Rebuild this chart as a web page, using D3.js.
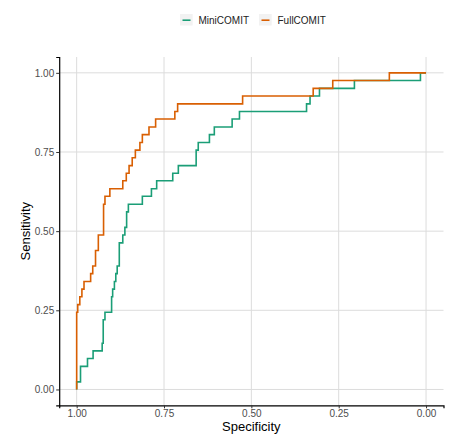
<!DOCTYPE html>
<html>
<head>
<meta charset="utf-8">
<script src="https://cdn.jsdelivr.net/npm/d3@7"></script>
<style>
  body { margin: 0; background: #fff; }
  svg { display: block; font-family: "Liberation Sans", Arial, sans-serif; }
</style>
</head>
<body>
<div id="chart"></div>
<script>
// ROC steps: each point = (specificity, sensitivity), drawn with a step-before curve
const miniSpec = [1, 0.989, 0.969, 0.953, 0.927, 0.924, 0.919, 0.900, 0.897, 0.892,
  0.888, 0.884, 0.878, 0.868, 0.862, 0.857, 0.852, 0.812, 0.786, 0.771,
  0.725, 0.709, 0.658, 0.652, 0.620, 0.606, 0.555, 0.534, 0.342, 0.332,
  0.305, 0.205, 0.016, 0];
const miniSens = [0, 0.024, 0.073, 0.098, 0.122, 0.146, 0.220, 0.244, 0.293, 0.317,
  0.341, 0.366, 0.390, 0.463, 0.488, 0.512, 0.561, 0.585, 0.610, 0.634,
  0.659, 0.683, 0.707, 0.756, 0.780, 0.805, 0.829, 0.854, 0.878, 0.902,
  0.927, 0.951, 0.976, 1];

const fullSpec = [1, 0.997, 0.991, 0.985, 0.979, 0.960, 0.954, 0.946, 0.938, 0.923,
  0.919, 0.905, 0.868, 0.858, 0.850, 0.841, 0.832, 0.819, 0.812, 0.793,
  0.774, 0.719, 0.711, 0.525, 0.323, 0.267, 0.105, 0];
const fullSens = [0, 0.244, 0.268, 0.293, 0.317, 0.341, 0.366, 0.390, 0.439, 0.488,
  0.585, 0.610, 0.634, 0.659, 0.683, 0.707, 0.732, 0.756, 0.780, 0.805,
  0.829, 0.854, 0.878, 0.902, 0.927, 0.951, 0.976, 1];

const seriesNames = ['MiniCOMIT', 'FullCOMIT'];
const seriesColors = ['#1b9e77', '#d95f02'];
const tickValues = [0, 0.25, 0.5, 0.75, 1];

const width = 450, height = 434;
const margin = { top: 57, right: 6.5, bottom: 28.7, left: 59.2 };

const svg = d3.select('#chart').append('svg')
  .attr('width', width)
  .attr('height', height);

const x = d3.scaleLinear().domain([1.05, -0.05]).range([margin.left, width - margin.right]);
const y = d3.scaleLinear().domain([-0.05, 1.05]).range([height - margin.bottom, margin.top]);

// grid
svg.append('g').selectAll('line.gx')
  .data(tickValues).enter().append('line')
  .attr('x1', d => x(d)).attr('x2', d => x(d))
  .attr('y1', y.range()[1]).attr('y2', y.range()[0])
  .attr('stroke', '#dcdcdc').attr('stroke-width', 1);
svg.append('g').selectAll('line.gy')
  .data(tickValues).enter().append('line')
  .attr('y1', d => y(d)).attr('y2', d => y(d))
  .attr('x1', x.range()[0]).attr('x2', x.range()[1])
  .attr('stroke', '#dcdcdc').attr('stroke-width', 1);

// axes
const xAxis = svg.append('g')
  .attr('transform', `translate(0,${y.range()[0]})`)
  .call(d3.axisBottom(x).tickValues(tickValues).tickFormat(d3.format('.2f')).tickSize(3).tickPadding(2));
const yAxis = svg.append('g')
  .attr('transform', `translate(${x.range()[0]},0)`)
  .call(d3.axisLeft(y).tickValues(tickValues).tickFormat(d3.format('.2f')).tickSize(3).tickPadding(2));

[xAxis, yAxis].forEach(a => {
  a.select('.domain').attr('stroke', '#000').attr('stroke-width', 1.2);
  a.selectAll('.tick line').attr('stroke', '#333');
  a.selectAll('.tick text').attr('fill', '#4d4d4d').style('font-size', '10px')
    .style('font-family', '"Liberation Sans", Arial, sans-serif');
});

// curves
const line = d3.line()
  .x(d => x(d[0]))
  .y(d => y(d[1]))
  .curve(d3.curveStepBefore);

const series = [
  { name: seriesNames[0], color: seriesColors[0], pts: miniSpec.map((s, i) => [s, miniSens[i]]) },
  { name: seriesNames[1], color: seriesColors[1], pts: fullSpec.map((s, i) => [s, fullSens[i]]) }
];

svg.append('g').selectAll('path')
  .data(series).enter().append('path')
  .attr('d', d => line(d.pts))
  .attr('fill', 'none')
  .attr('stroke', d => d.color)
  .attr('stroke-width', 1.6);

// axis titles
svg.append('text')
  .attr('x', (x.range()[0] + x.range()[1]) / 2)
  .attr('y', 431)
  .attr('text-anchor', 'middle')
  .style('font-size', '13px')
  .text('Specificity');

svg.append('text')
  .attr('transform', `translate(30,${(y.range()[0] + y.range()[1]) / 2}) rotate(-90)`)
  .attr('text-anchor', 'middle')
  .style('font-size', '13px')
  .text('Sensitivity');

// legend
const legend = svg.append('g').attr('transform', 'translate(180,14)');
const legX = [0, 79];
series.forEach((s, i) => {
  const g = legend.append('g').attr('transform', `translate(${legX[i]},0)`);
  g.append('rect').attr('width', 12.7).attr('height', 11.5).attr('fill', '#f2f2f2');
  g.append('line').attr('x1', 2.5).attr('x2', 10.5).attr('y1', 6.2).attr('y2', 6.2)
    .attr('stroke', s.color).attr('stroke-width', 1.6);
  g.append('text').attr('x', 18.5).attr('y', 6.2).attr('dy', '0.35em')
    .style('font-size', '10px').attr('fill', '#222').text(s.name);
});
</script>
</body>
</html>
